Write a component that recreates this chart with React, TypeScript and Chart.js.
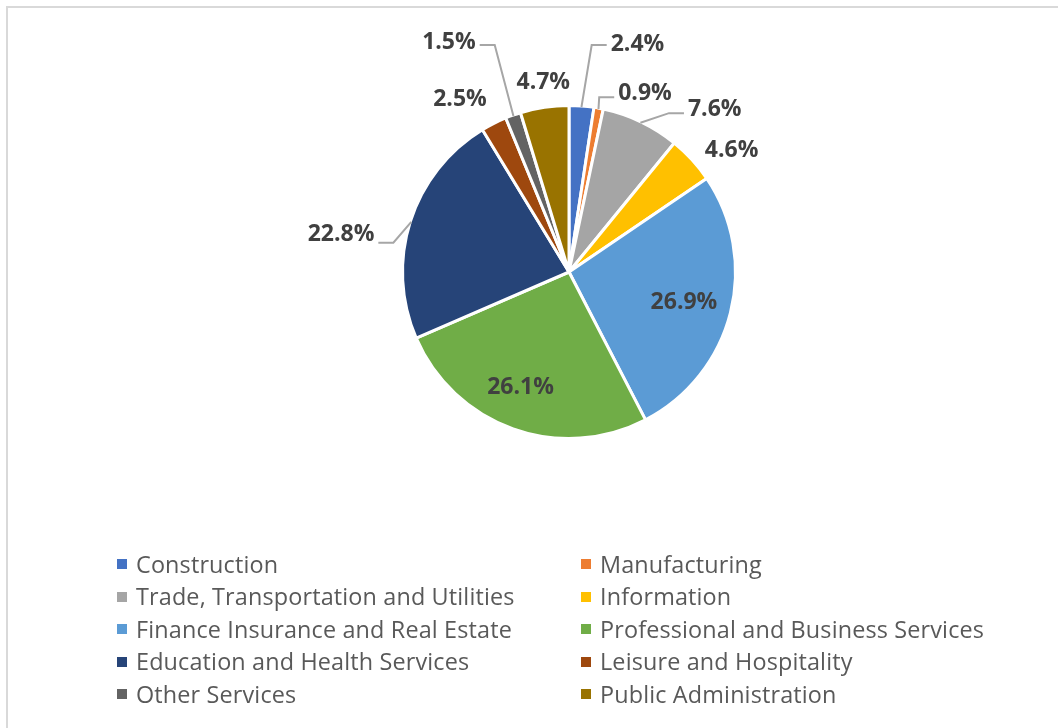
import React, { useEffect, useRef } from "react";
import { Chart, registerables } from "chart.js";

Chart.register(...registerables);

const categories = [
  "Construction",
  "Manufacturing",
  "Trade, Transportation and Utilities",
  "Information",
  "Finance Insurance and Real Estate",
  "Professional and Business Services",
  "Education and Health Services",
  "Leisure and Hospitality",
  "Other Services",
  "Public Administration",
];

const shares = [2.4, 0.9, 7.6, 4.6, 26.9, 26.1, 22.8, 2.5, 1.5, 4.7];

const colors = [
  "#4472C4",
  "#ED7D31",
  "#A5A5A5",
  "#FFC000",
  "#5B9BD5",
  "#70AD47",
  "#264478",
  "#9E480E",
  "#636363",
  "#997300",
];

// label placement relative to each slice (radius factor, angular shift in degrees)
const labelRadius = [1.438, 1.175, 1.317, 1.224, 0.712, 0.744, 1.389, 1.235, 1.566, 1.159];
const labelShift = [12.3, 12.6, 16.1, 5.4, -0.05, 3.4, -8.0, -5.2, -7.8, 0.8];
const hasLeader = [true, true, true, false, false, false, true, false, true, false];
const leaderDy = [2.5, 5.5, 5, 0, 0, 0, 9.4, 0, 4.5, 0];

const LABEL_SIZE = 23;

const labelPlugin = {
  id: "pieLabels",
  afterDatasetsDraw(chart: any) {
    const ctx = chart.ctx as CanvasRenderingContext2D;
    const meta = chart.getDatasetMeta(0);
    ctx.save();
    ctx.font = `bold ${LABEL_SIZE}px "Open Sans"`;
    meta.data.forEach((arc: any, i: number) => {
      const { x, y, startAngle, endAngle, outerRadius } = arc.getProps(
        ["x", "y", "startAngle", "endAngle", "outerRadius"],
        true
      );
      const mid = (startAngle + endAngle) / 2;
      const a = mid + (labelShift[i] * Math.PI) / 180;
      const r = outerRadius * labelRadius[i];
      const lx = x + r * Math.cos(a);
      const ly = y + r * Math.sin(a);
      const text = shares[i].toFixed(1) + "%";
      const w = ctx.measureText(text).width;
      if (hasLeader[i]) {
        const er = outerRadius - 1;
        const ex = x + er * Math.cos(mid);
        const ey = y + er * Math.sin(mid);
        const right = lx > x;
        const lineY = ly + leaderDy[i];
        const endX = right ? lx - w / 2 - 4 : lx + w / 2 + 4;
        const elbowX = right ? endX - 15 : endX + 15;
        ctx.strokeStyle = "#A6A6A6";
        ctx.lineWidth = 2;
        ctx.beginPath();
        ctx.moveTo(ex, ey);
        ctx.lineTo(elbowX, lineY);
        ctx.lineTo(endX, lineY);
        ctx.stroke();
      }
      ctx.fillStyle = "#404040";
      ctx.textAlign = "center";
      ctx.textBaseline = "alphabetic";
      ctx.fillText(text, lx, ly + 0.357 * LABEL_SIZE);
    });
    ctx.restore();
  },
};

export default function App() {
  const ref = useRef<HTMLCanvasElement>(null);
  useEffect(() => {
    const chart = new Chart(ref.current as HTMLCanvasElement, {
      type: "pie",
      data: {
        labels: categories,
        datasets: [
          {
            data: shares,
            backgroundColor: colors,
            borderColor: "#FFFFFF",
            borderWidth: 3,
            hoverOffset: 0,
            offset: 0,
          } as any,
        ],
      },
      options: {
        responsive: false,
        animation: false,
        devicePixelRatio: 1,
        events: [],
        layout: { padding: { left: 401, right: 321, top: 104, bottom: 288 } },
        plugins: {
          legend: { display: false },
          tooltip: { enabled: false },
        },
      } as any,
      plugins: [labelPlugin],
    });
    return () => chart.destroy();
  }, []);

  return (
    <div
      style={{
        position: "fixed",
        left: 0,
        top: 0,
        width: 1058,
        height: 728,
        overflow: "hidden",
        background: "#FFFFFF",
      }}
    >
      <div
        style={{
          position: "absolute",
          left: 6,
          top: 6,
          width: 1100,
          height: 800,
          border: "2px solid #D9D9D9",
        }}
      />
      <canvas
        ref={ref}
        width={1058}
        height={728}
        style={{ position: "absolute", left: 0, top: 0, width: 1058, height: 728 }}
      />
      <div
        style={{
          position: "absolute",
          left: 117,
          top: 547.7,
          display: "grid",
          gridTemplateColumns: "464px 440px",
          gridAutoRows: "32.6px",
          fontFamily: '"Open Sans", sans-serif',
          fontSize: 23.4,
          letterSpacing: "0.15px",
          color: "#595959",
        }}
      >
        {categories.map((c, i) => (
          <div
            key={c}
            style={{ display: "flex", alignItems: "center", height: 32.6, whiteSpace: "nowrap" }}
          >
            <span
              style={{
                display: "inline-block",
                width: 10,
                height: 10,
                background: colors[i],
                marginRight: 9,
                flex: "none",
              }}
            />
            <span style={{ lineHeight: "32.6px" }}>{c}</span>
          </div>
        ))}
      </div>
    </div>
  );
}
